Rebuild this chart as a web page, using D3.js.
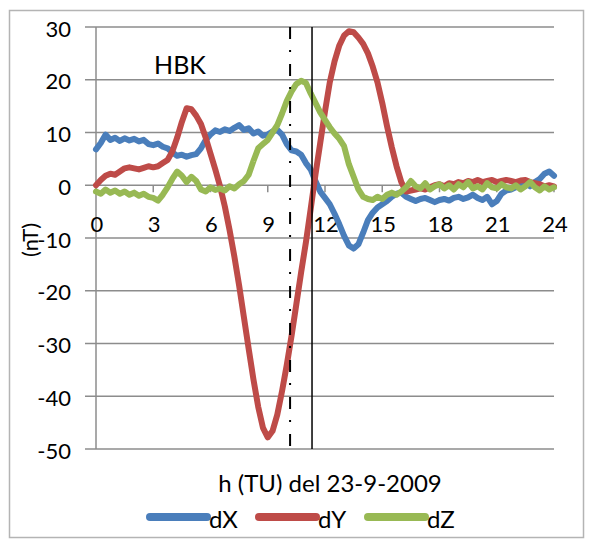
<!DOCTYPE html>
<html>
<head>
<meta charset="utf-8">
<script src="https://cdn.jsdelivr.net/npm/d3@7"></script>
<style>
  body { margin: 0; background: #fff; }
  text { font-family: Lato, "Open Sans", sans-serif; fill: #000; }
</style>
</head>
<body>
<div id="chart"></div>
<script>
// series sampled every 0.25 h (0 .. 24 h)
const step = 0.25;
const dX = [6.8, 8.0, 9.6, 8.6, 9.0, 8.4, 8.9, 8.5, 8.8, 8.3, 8.6, 7.8,
  7.6, 7.9, 7.3, 7.0, 6.2, 5.6, 5.8, 5.4, 5.7, 5.9, 7.0, 8.6,
  9.6, 10.4, 10.1, 10.6, 10.3, 10.9, 11.4, 10.5, 10.8, 9.8, 10.2, 9.4,
  9.6, 10.2, 10.5, 9.6, 7.8, 6.6, 6.4, 5.8, 4.2, 3.0, 0.8, -1.2,
  -2.4, -3.6, -5.4, -7.4, -9.6, -11.4, -12.0, -11.2, -9.0, -6.6, -5.2, -4.2,
  -3.6, -3.0, -2.2, -1.6, -1.4, -2.2, -2.6, -3.0, -2.6, -2.4, -2.8, -3.2,
  -2.8, -2.6, -2.9, -2.4, -2.2, -2.6, -2.3, -1.8, -2.4, -2.8, -2.2, -3.6,
  -3.0, -1.6, -1.0, -0.8, -0.4, -0.2, 0.4, -0.2, 0.6, 1.2, 2.2, 2.6, 1.8];
const dY = [0.0, 1.0, 1.8, 2.2, 2.0, 2.6, 3.2, 3.4, 3.2, 3.0, 3.3, 3.6,
  3.4, 3.6, 4.2, 4.8, 6.4, 9.0, 12.0, 14.6, 14.4, 13.2, 11.6, 9.0,
  6.0, 3.0, -0.2, -4.0, -8.5, -13.5, -19.0, -25.0, -31.0, -36.8, -42.0, -46.0,
  -47.8, -46.6, -43.5, -39.0, -34.0, -28.5, -22.5, -16.5, -10.8, -4.5, 2.0, 8.0,
  14.0, 19.5, 23.5, 26.5, 28.4, 29.2, 29.0, 28.0, 26.8, 25.0, 22.5, 19.5,
  15.6, 11.2, 7.2, 3.6, 0.6, -1.2, -1.0, -0.8, -0.6, -0.8, -0.4, 0.0,
  0.2, -0.2, 0.4, 0.2, 0.6, 0.4, 0.8, 0.6, 1.0, 0.6, 0.8, 1.0,
  0.6, 0.8, 1.0, 0.8, 0.6, 0.9, 1.0, 0.6, 0.4, 0.2, -0.2, 0.0, -0.2];
const dZ = [-1.2, -1.6, -0.8, -1.4, -1.0, -1.6, -1.2, -1.8, -1.4, -2.0, -1.6, -2.2,
  -2.4, -2.9, -1.8, -0.4, 1.2, 2.6, 1.8, 0.6, 1.6, 0.8, -0.8, -1.2,
  -0.4, -0.9, -0.6, -1.0, -0.2, -0.6, 0.2, 0.8, 2.0, 4.6, 7.0, 7.8,
  8.6, 10.0, 11.4, 13.6, 16.0, 17.8, 19.2, 19.8, 19.4, 17.4, 15.6, 13.8,
  12.4, 11.0, 9.8, 8.8, 7.4, 4.0, 1.6, -0.8, -2.2, -2.6, -2.8, -2.2,
  -2.6, -1.8, -1.4, -1.8, -1.2, -0.4, 0.8, -0.2, -0.6, 0.4, -0.8, -0.2,
  0.2, -0.6, 0.0, -0.8, 0.2, -0.4, 0.6, -0.6, -0.2, -0.8, 0.4, -0.4,
  -0.6, 0.2, -0.4, -0.6, 0.0, -0.8, -0.2, 0.6, -0.4, -1.0, -0.2, -0.8, -0.4];

const seriesNames = ["dX", "dY", "dZ"];
const seriesColors = ["#4a7ebb", "#be4b48", "#98b954"];
const xTicks = [0, 3, 6, 9, 12, 15, 18, 21, 24];
const yTicks = [30, 20, 10, 0, -10, -20, -30, -40, -50];
const markers = [10.17, 11.32];   // dash-dot, solid
const stationLabel = "HBK";
const xTitle = "h (TU) del 23-9-2009";
const yTitle = "(nT)";

const width = 589, height = 541;
const svg = d3.select("#chart").append("svg")
    .attr("width", width)
    .attr("height", height);

// outer frame
svg.append("rect")
    .attr("x", 9.5).attr("y", 10.5)
    .attr("width", 574).attr("height", 527)
    .attr("fill", "none")
    .attr("stroke", "#b4b4b4")
    .attr("stroke-width", 1.5);

const x = d3.scaleLinear().domain([0, 24]).range([96, 554]);
const y = d3.scaleLinear().domain([-50, 30]).range([449, 27]);

// horizontal gridlines (run out to the left as tick marks)
svg.append("g").selectAll("line")
    .data(yTicks)
    .enter().append("line")
    .attr("x1", 85).attr("x2", x(24))
    .attr("y1", d => y(d)).attr("y2", d => y(d))
    .attr("stroke", "#8c8c8c")
    .attr("stroke-width", 1.5);

// vertical axis line
svg.append("line")
    .attr("x1", x(0)).attr("x2", x(0))
    .attr("y1", y(30)).attr("y2", y(-50))
    .attr("stroke", "#8c8c8c")
    .attr("stroke-width", 1.5);

// x tick marks hanging below the zero line
svg.append("g").selectAll("line")
    .data(xTicks)
    .enter().append("line")
    .attr("x1", d => x(d)).attr("x2", d => x(d))
    .attr("y1", y(0)).attr("y2", y(0) + 7)
    .attr("stroke", "#8c8c8c")
    .attr("stroke-width", 1.5);

// y tick labels
svg.append("g").selectAll("text")
    .data(yTicks)
    .enter().append("text")
    .attr("x", 71)
    .attr("y", d => y(d) + 1)
    .attr("text-anchor", "end")
    .attr("dominant-baseline", "central")
    .style("font-size", "22px")
    .text(d => d);

// x tick labels
svg.append("g").selectAll("text")
    .data(xTicks)
    .enter().append("text")
    .attr("x", d => x(d) + 1)
    .attr("y", 223)
    .attr("text-anchor", "middle")
    .attr("dominant-baseline", "central")
    .style("font-size", "22px")
    .text(d => d);

// data lines
const line = d3.line()
    .x((d, i) => x(i * step))
    .y(d => y(d));

[dX, dY, dZ].forEach(function(values, k) {
    svg.append("path")
        .datum(values)
        .attr("fill", "none")
        .attr("stroke", seriesColors[k])
        .attr("stroke-width", 6)
        .attr("stroke-linejoin", "round")
        .attr("stroke-linecap", "round")
        .attr("d", line);
});

// event markers
svg.append("line")
    .attr("x1", x(markers[0])).attr("x2", x(markers[0]))
    .attr("y1", y(30)).attr("y2", y(-50))
    .attr("stroke", "#000")
    .attr("stroke-width", 2)
    .attr("stroke-dasharray", "12,11,2,12");

svg.append("line")
    .attr("x1", x(markers[1])).attr("x2", x(markers[1]))
    .attr("y1", y(30)).attr("y2", y(-50))
    .attr("stroke", "#000")
    .attr("stroke-width", 1.5);

// station label
svg.append("text")
    .attr("x", 180).attr("y", 64)
    .attr("text-anchor", "middle")
    .attr("dominant-baseline", "central")
    .style("font-size", "25px")
    .text(stationLabel);

// axis titles
svg.append("text")
    .attr("x", 330).attr("y", 482)
    .attr("text-anchor", "middle")
    .attr("dominant-baseline", "central")
    .style("font-size", "24px")
    .text(xTitle);

svg.append("text")
    .attr("transform", "translate(29,240) rotate(-90)")
    .attr("text-anchor", "middle")
    .attr("dominant-baseline", "central")
    .style("font-size", "22px")
    .text(yTitle);

// legend
const legend = svg.append("g").selectAll("g")
    .data(seriesNames)
    .enter().append("g")
    .attr("transform", (d, i) => "translate(" + (150 + i * 109) + ",517)");

legend.append("line")
    .attr("x1", 0).attr("x2", 57)
    .attr("y1", 0).attr("y2", 0)
    .attr("stroke", (d, i) => seriesColors[i])
    .attr("stroke-width", 8)
    .attr("stroke-linecap", "round");

legend.append("text")
    .attr("x", 59).attr("y", 1)
    .attr("dominant-baseline", "central")
    .style("font-size", "24px")
    .text(d => d);
</script>
</body>
</html>
